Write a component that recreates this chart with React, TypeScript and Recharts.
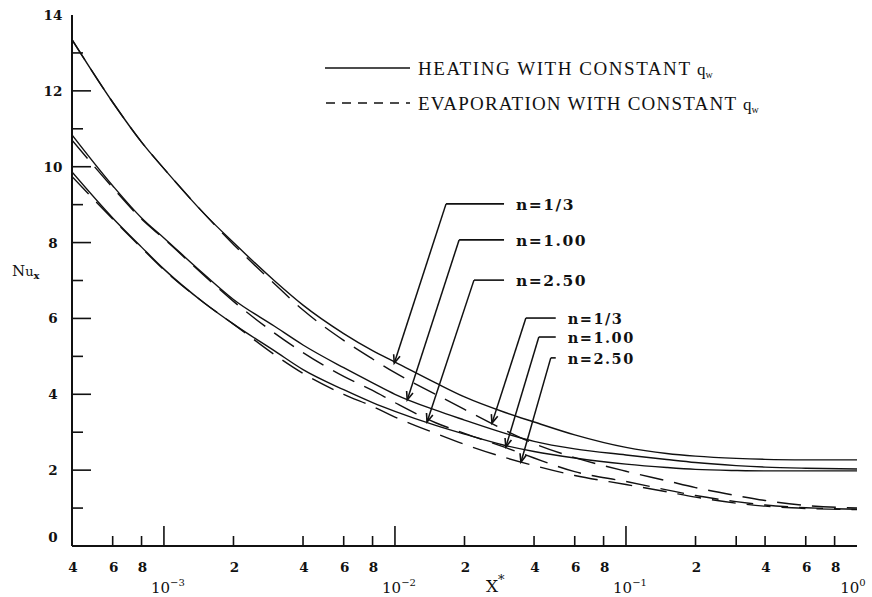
import React from "react";
import { LineChart, Line, XAxis, YAxis, ReferenceLine } from "recharts";

const xStar = [4e-4, 6e-4, 8e-4, 1e-3, 1.5e-3, 2e-3, 3e-3, 4e-3, 6e-3, 8e-3, 1e-2, 1.5e-2, 2e-2, 3e-2, 4e-2, 6e-2, 0.1, 0.15, 0.2, 0.3, 0.4, 0.6, 1.0];

// heating with constant q_w (solid)
const heat13 = [13.35, 11.7, 10.65, 9.95, 8.75, 8.0, 7.0, 6.35, 5.6, 5.15, 4.85, 4.3, 3.93, 3.52, 3.27, 2.93, 2.6, 2.44, 2.37, 2.31, 2.285, 2.272, 2.27];
const heat100 = [10.84, 9.5, 8.65, 8.12, 7.15, 6.5, 5.8, 5.3, 4.7, 4.3, 4.0, 3.58, 3.32, 2.97, 2.76, 2.56, 2.4, 2.28, 2.2, 2.12, 2.08, 2.05, 2.03];
const heat250 = [9.86, 8.65, 7.88, 7.3, 6.4, 5.85, 5.15, 4.65, 4.12, 3.78, 3.55, 3.18, 2.95, 2.65, 2.49, 2.32, 2.16, 2.07, 2.02, 1.99, 1.98, 1.98, 1.98];

// evaporation with constant q_w (dashed)
const evap13 = [13.35, 11.7, 10.65, 9.95, 8.75, 7.95, 6.92, 6.22, 5.42, 4.93, 4.57, 4.0, 3.6, 3.05, 2.7, 2.33, 1.97, 1.72, 1.54, 1.33, 1.2, 1.07, 1.0];
const evap100 = [10.7, 9.45, 8.62, 8.1, 7.12, 6.45, 5.62, 5.1, 4.47, 4.1, 3.78, 3.25, 2.97, 2.6, 2.32, 1.96, 1.7, 1.48, 1.33, 1.17, 1.08, 1.01, 0.97];
const evap250 = [9.74, 8.62, 7.86, 7.28, 6.4, 5.85, 5.05, 4.55, 4.0, 3.68, 3.4, 2.97, 2.68, 2.33, 2.12, 1.86, 1.62, 1.43, 1.29, 1.13, 1.05, 0.99, 0.96];

const xTicks = [4e-4, 6e-4, 8e-4, 1e-3, 2e-3, 4e-3, 6e-3, 8e-3, 1e-2, 2e-2, 4e-2, 6e-2, 8e-2, 0.1, 0.2, 0.3, 0.4, 0.6, 0.8, 1];
const xTickLabels = ["4", "6", "8", "", "2", "4", "6", "8", "", "2", "4", "6", "8", "", "2", "", "4", "6", "8", ""];
const decadeExp = ["\u22123", "\u22122", "\u22121", "0"];
const yTicks = [0, 1, 2, 3, 4, 5, 6, 7, 8, 9, 10, 11, 12, 13, 14];

// annotation leaders: label row y, corner x, leader end x, arrow tip
const heatNotes = [
  { label: "n=1/3", y: 9.02, xCorner: 0.01664, xEnd: 0.02966, tipX: 0.00993, tipY: 4.82 },
  { label: "n=1.00", y: 8.07, xCorner: 0.01895, xEnd: 0.02966, tipX: 0.0113, tipY: 3.85 },
  { label: "n=2.50", y: 7.01, xCorner: 0.02198, xEnd: 0.02966, tipX: 0.01377, tipY: 3.27 },
];
const evapNotes = [
  { label: "n=1/3", y: 6.01, xCorner: 0.03687, xEnd: 0.04966, tipX: 0.0263, tipY: 3.24 },
  { label: "n=1.00", y: 5.51, xCorner: 0.04195, xEnd: 0.04966, tipX: 0.0302, tipY: 2.61 },
  { label: "n=2.50", y: 4.96, xCorner: 0.04726, xEnd: 0.04966, tipX: 0.0351, tipY: 2.21 },
];

const data = xStar.map((x, i) => ({
  x,
  h13: heat13[i],
  h100: heat100[i],
  h250: heat250[i],
  e13: evap13[i],
  e100: evap100[i],
  e250: evap250[i],
}));

const SERIF = "'DejaVu Serif', 'Liberation Serif', serif";
const INK = "#111";

const isDecade = (v: number) => Math.abs(Math.log10(v) - Math.round(Math.log10(v))) < 1e-6;

const BottomTick = (props: any) => {
  const { x, y, payload } = props;
  const v = payload.value;
  const i = xTicks.indexOf(v);
  const dec = isDecade(v);
  const len = dec ? 20 : 10;
  const di = dec ? Math.round(Math.log10(v)) + 3 : -1;
  return (
    <g>
      {v > 4e-4 && v < 1 && <line x1={x} y1={y} x2={x} y2={y - len} stroke={INK} strokeWidth={1.6} />}
      {xTickLabels[i] && (
        <text x={x + 1} y={y + 26} textAnchor="middle" fontFamily={SERIF} fontWeight="bold" fontSize={13.5} fill={INK}>
          {xTickLabels[i]}
        </text>
      )}
      {dec && (
        <text x={v === 1 ? x - 4 : x + 4} y={y + 47} textAnchor="middle" fontFamily={SERIF} fontSize={15} fill={INK}>
          10
          <tspan fontSize={10} dy={-7}>{decadeExp[di]}</tspan>
        </text>
      )}
    </g>
  );
};

const TopTick = (props: any) => {
  const { x, y, payload } = props;
  const v = payload.value;
  const len = isDecade(v) ? 18 : 9;
  if (v <= 4e-4 || v >= 1) return <g />;
  return <line x1={x} y1={y} x2={x} y2={y + len} stroke={INK} strokeWidth={1.6} />;
};

const LeftTick = (props: any) => {
  const { x, y, payload } = props;
  const v = payload.value;
  const even = v % 2 === 0;
  return (
    <g>
      {v > 0 && v < 14 && <line x1={x} y1={y} x2={x + (even ? 19 : 11)} y2={y} stroke={INK} strokeWidth={1.6} />}
      {even && (
        <text x={53} y={y + 5 - (v === 0 ? 9 : 0)} textAnchor="middle" fontFamily={SERIF} fontWeight="bold" fontSize={13.5} fill={INK}>
          {v}
        </text>
      )}
    </g>
  );
};

const RightTick = (props: any) => {
  const { x, y, payload } = props;
  const v = payload.value;
  if (v <= 0 || v >= 14) return <g />;
  const even = v % 2 === 0;
  return <line x1={x} y1={y} x2={x - (even ? 18 : 11)} y2={y} stroke={INK} strokeWidth={1.6} />;
};

const Arrow = (props: any) => {
  const { x1, y1, x2, y2 } = props;
  const a = Math.atan2(y2 - y1, x2 - x1);
  const L = 9;
  const s = 0.38;
  return (
    <g>
      <line x1={x1} y1={y1} x2={x2} y2={y2} stroke={INK} strokeWidth={1.5} />
      <polyline
        points={`${x2 - L * Math.cos(a - s)},${y2 - L * Math.sin(a - s)} ${x2},${y2} ${x2 - L * Math.cos(a + s)},${y2 - L * Math.sin(a + s)}`}
        fill="none"
        stroke={INK}
        strokeWidth={1.6}
      />
    </g>
  );
};

const leader = (label: string, size: number) => (props: any) => {
  const { x1, y1, x2, y2 } = props;
  return (
    <g>
      <line x1={x1} y1={y1} x2={x2} y2={y2} stroke={INK} strokeWidth={1.6} />
      <text x={x2 + 12} y={y2 + 6} fontFamily={SERIF} fontWeight="bold" fontSize={size} letterSpacing={1.5} fill={INK}>
        {label}
      </text>
    </g>
  );
};

const lines = [
  { key: "h13", dash: undefined },
  { key: "h100", dash: undefined },
  { key: "h250", dash: undefined },
  { key: "e13", dash: "24 11" },
  { key: "e100", dash: "24 11" },
  { key: "e250", dash: "24 11" },
];

export default function App() {
  return (
    <div style={{ position: "absolute", left: 0, top: 0, width: 872, height: 597, background: "#fff" }}>
      <LineChart width={872} height={597} data={data} margin={{ top: 15, right: 15, left: 0, bottom: 0 }}>
        <XAxis
          xAxisId="b"
          dataKey="x"
          type="number"
          scale="log"
          domain={[4e-4, 1]}
          allowDataOverflow
          ticks={xTicks}
          interval={0}
          height={51}
          tickSize={0}
          tickMargin={0}
          tickLine={false}
          axisLine={{ stroke: INK, strokeWidth: 2 }}
          tick={<BottomTick />}
        />
        <XAxis
          xAxisId="t"
          orientation="top"
          dataKey="x"
          type="number"
          scale="log"
          domain={[4e-4, 1]}
          allowDataOverflow
          ticks={xTicks}
          interval={0}
          height={0}
          tickSize={0}
          tickMargin={0}
          tickLine={false}
          axisLine={{ stroke: INK, strokeWidth: 2 }}
          tick={<TopTick />}
        />
        <YAxis
          yAxisId="l"
          type="number"
          domain={[0, 14]}
          ticks={yTicks}
          interval={0}
          width={72}
          tickSize={0}
          tickMargin={0}
          tickLine={false}
          axisLine={{ stroke: INK, strokeWidth: 2 }}
          tick={<LeftTick />}
        />
        <YAxis
          yAxisId="r"
          orientation="right"
          type="number"
          domain={[0, 14]}
          ticks={yTicks}
          interval={0}
          width={0}
          tickSize={0}
          tickMargin={0}
          tickLine={false}
          axisLine={{ stroke: INK, strokeWidth: 2 }}
          tick={<RightTick />}
        />
        {lines.map((l) => (
          <Line
            key={l.key}
            xAxisId="b"
            yAxisId="l"
            dataKey={l.key}
            type="monotone"
            stroke={INK}
            strokeWidth={1.4}
            strokeDasharray={l.dash}
            dot={false}
            activeDot={false}
            isAnimationActive={false}
          />
        ))}
        {[...heatNotes.map((n) => ({ ...n, size: 15.5 })), ...evapNotes.map((n) => ({ ...n, size: 14.5 }))].map((n, i) => (
          <ReferenceLine
            key={"h" + i}
            xAxisId="b"
            yAxisId="l"
            segment={[{ x: n.xCorner, y: n.y }, { x: n.xEnd, y: n.y }]}
            shape={leader(n.label, n.size)}
          />
        ))}
        {[...heatNotes, ...evapNotes].map((n, i) => (
          <ReferenceLine
            key={"a" + i}
            xAxisId="b"
            yAxisId="l"
            segment={[{ x: n.xCorner, y: n.y }, { x: n.tipX, y: n.tipY }]}
            shape={<Arrow />}
          />
        ))}
        <g>
          <line x1={325} y1={68} x2={410} y2={68} stroke={INK} strokeWidth={1.5} />
          <text x={418} y={75} fontFamily="'Liberation Serif', serif" fontSize={19} fill={INK} textLength={272} lengthAdjust="spacing">
            HEATING WITH CONSTANT
          </text>
          <text x={697} y={75} fontFamily="'Liberation Serif', serif" fontSize={17} fill={INK}>
            q<tspan fontSize={10} dy={3}>w</tspan>
          </text>
          <line x1={326} y1={103} x2={410} y2={103} stroke={INK} strokeWidth={1.5} strokeDasharray="9 7" />
          <text x={418} y={110} fontFamily="'Liberation Serif', serif" fontSize={19} fill={INK} textLength={318} lengthAdjust="spacing">
            EVAPORATION WITH CONSTANT
          </text>
          <text x={743} y={110} fontFamily="'Liberation Serif', serif" fontSize={17} fill={INK}>
            q<tspan fontSize={10} dy={3}>w</tspan>
          </text>
        </g>
        <text x={12} y={276} fontFamily={SERIF} fontSize={15} fill={INK}>
          N<tspan fontSize={13}>u</tspan>
          <tspan fontSize={10} dy={3} fontWeight="bold">x</tspan>
        </text>
        <text x={486} y={592} fontFamily={SERIF} fontSize={17} fill={INK}>
          X<tspan fontSize={13} dy={-8}>*</tspan>
        </text>
      </LineChart>
    </div>
  );
}
